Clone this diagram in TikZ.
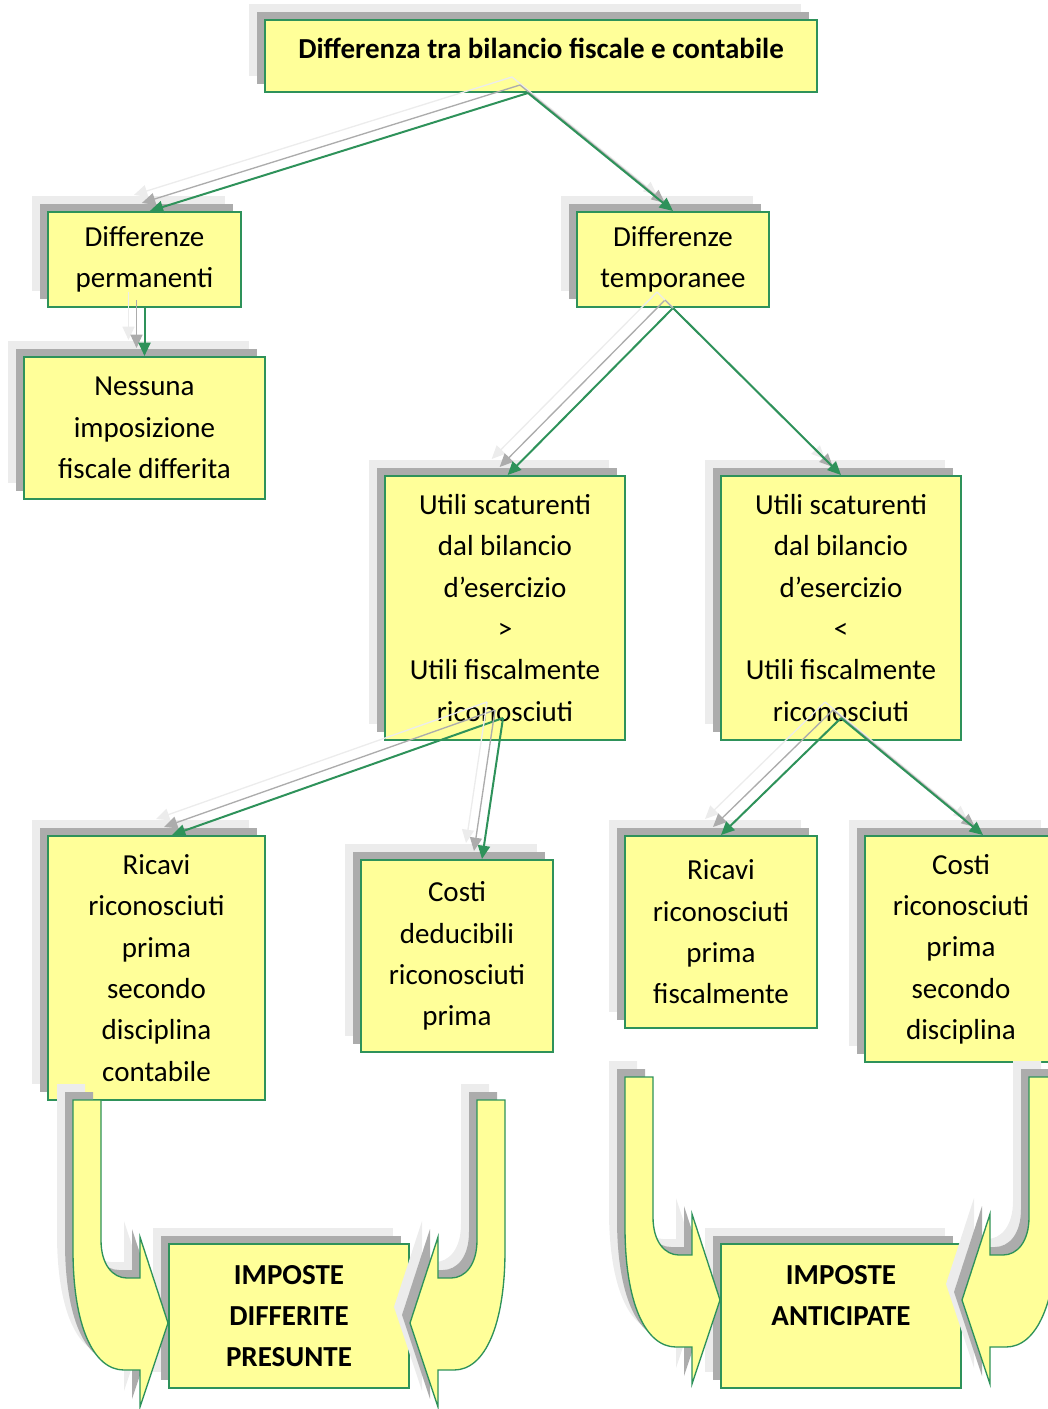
\documentclass[tikz,border=0pt]{standalone}
\usepackage{fontspec}
\setmainfont{Carlito}
\usetikzlibrary{arrows.meta}
\usetikzlibrary{positioning}
\definecolor{boxyellow}{RGB}{255,255,153}
\definecolor{boxgreen}{RGB}{46,146,90}
\definecolor{shadedark}{RGB}{172,172,172}
\definecolor{shadelight}{RGB}{236,236,236}
\tikzset{>={Triangle[length=10pt,width=9pt]}, font=\fontsize{21.75}{31}\selectfont}
\tikzstyle{boxshadow} = [preaction={draw=none, fill=shadelight, transform canvas={shift={(-12pt,12pt)}}}, preaction={draw=none, fill=shadedark, transform canvas={shift={(-6pt,6pt)}}}]
\tikzstyle{lineshadow} = [preaction={draw=shadelight, line width=1pt, transform canvas={shift={(-12pt,12pt)}}}, preaction={draw=shadedark, line width=1pt, transform canvas={shift={(-6pt,6pt)}}}]
\tikzstyle{block} = [draw=boxgreen, fill=boxyellow, line width=1.5pt, rectangle, align=center, inner sep=0pt, boxshadow]
\tikzstyle{title} = [block, font=\fontsize{21.75}{31}\selectfont\bfseries]
\tikzstyle{conn} = [->, draw=boxgreen, line width=1.5pt, lineshadow]
\tikzstyle{uturn} = [draw=boxgreen, fill=boxyellow, line width=1pt, boxshadow]

\begin{document}
\begin{tikzpicture}[x=0.75pt, y=-0.75pt]
    \useasboundingbox (0,0) rectangle (1048,1409);

    \node [title, minimum width=414pt, minimum height=54pt, text height=15pt, text depth=10.5pt] (diff) at (541,56) {Differenza tra bilancio fiscale e contabile};
    \node [block, minimum width=144.75pt, minimum height=71.25pt] (perm) at (144.5,259.5) {Differenze\\permanenti};
    \node [block, minimum width=144pt, minimum height=71.25pt, right=250.5pt of perm] (temp) {Differenze\\temporanee};
    \node [block, minimum width=180.75pt, minimum height=106.5pt, below=36pt of perm] (ness) {Nessuna\\imposizione\\fiscale differita};
    \node [block, minimum width=180pt, minimum height=198pt] (util1) at (505,608) {Utili scaturenti\\dal bilancio\\d’esercizio\\>\\Utili fiscalmente\\riconosciuti};
    \node [block, minimum width=180pt, minimum height=198pt, right=70.5pt of util1] (util2) {Utili scaturenti\\dal bilancio\\d’esercizio\\<\\Utili fiscalmente\\riconosciuti};
    \node [block, minimum width=162.75pt, minimum height=198pt] (ric1) at (156.5,968) {Ricavi\\riconosciuti\\prima\\secondo\\disciplina\\contabile};
    \node [block, minimum width=144pt, minimum height=144pt] (cos1) at (457,956) {Costi\\deducibili\\riconosciuti\\prima};
    \node [block, minimum width=144pt, minimum height=144pt] (ric2) at (721,932) {Ricavi\\riconosciuti\\prima\\fiscalmente};
    \node [block, minimum width=144pt, minimum height=169.5pt] (cos2) at (961,949) {Costi\\riconosciuti\\prima\\secondo\\disciplina};
    \node [title, minimum width=180pt, minimum height=108pt] (impd) at (289,1316) {IMPOSTE\\DIFFERITE\\PRESUNTE};
    \node [title, minimum width=180pt, minimum height=108pt, right=232.5pt of impd] (impa) {IMPOSTE\\ANTICIPATE\\~};

    \foreach \cx/\dy in {289/0, 841/-23}
        \foreach \side in {1,-1}
            \draw [uturn, shift={(\cx,\dy)}, xscale=\side] (-216,1100) -- (-188,1100) -- (-188,1240)
                .. controls (-188,1265) and (-176,1278) .. (-162,1278) -- (-149,1278) -- (-149,1237)
                -- (-121,1323) -- (-149,1407) -- (-149,1370) -- (-165,1370)
                .. controls (-196,1370) and (-216,1325) .. (-216,1250) -- cycle;

    \coordinate (diffout) at ([xshift=-9.75pt]diff.south);
    \coordinate (util1out) at ([xshift=-1.5pt,yshift=17.25pt]util1.south);
    \coordinate (util2out) at ([yshift=17.25pt]util2.south);

    \draw [conn] (diffout) -- ([xshift=4pt]perm.north);
    \draw [conn] (diffout) -- (temp.north);
    \draw [conn] (perm.south) -- (ness.north);
    \draw [conn] (temp.south) -- ([xshift=2pt]util1.north);
    \draw [conn] (temp.south) -- (util2.north);
    \draw [conn] (util1out) -- ([xshift=11.6pt]ric1.north);
    \draw [conn] (util1out) -- ([xshift=18.75pt]cos1.north);
    \draw [conn] (util2out) -- (ric2.north);
    \draw [conn] (util2out) -- ([xshift=16.5pt]cos2.north);
\end{tikzpicture}
\end{document}
